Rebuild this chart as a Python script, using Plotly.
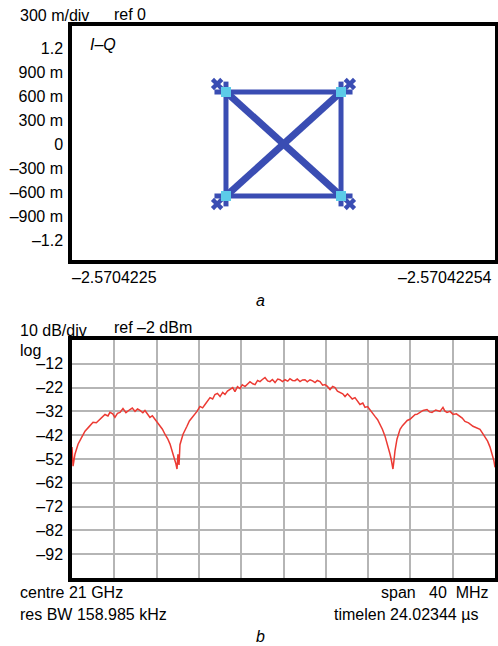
import plotly.graph_objects as go

# ---------------- data ----------------
# (a) I-Q constellation: symbol positions (normalised units)
sym_i = [-0.65, 0.65, 0.65, -0.65]
sym_q = [0.65, 0.65, -0.65, -0.65]
# transitions between symbols (index pairs): square edges + diagonals
edges = [(0, 1), (1, 2), (2, 3), (3, 0)]
diagonals = [(0, 2), (1, 3)]
edge_overshoot = 0.13
diag_overshoot = 0.05
corner_spread = 0.10

q_tickvals = [1.2, 0.9, 0.6, 0.3, 0, -0.3, -0.6, -0.9, -1.2]
q_ticktext = ["1.2", "900 m", "600 m", "300 m", "0", "\u2013300 m", "\u2013600 m", "\u2013900 m", "\u20131.2"]

# (b) spectrum: offset from centre (MHz) and level (dBm)
freq_mhz = [
    -20.0, -19.9, -19.72, -19.43, -19.1, -18.77, -18.4, -18.01, -17.7, -17.35,
    -17.1, -16.88, -16.6, -16.41, -16.15, -15.94, -15.7, -15.46, -15.18, -14.9,
    -14.52, -14.3, -14.04, -13.8, -13.57, -13.3, -13.10, -12.85, -12.63, -12.4,
    -12.15, -11.9, -11.68, -11.45, -11.21, -10.95, -10.73, -10.5, -10.26, -10.17,
    -10.07, -9.98, -9.88, -9.79, -9.50, -9.3, -9.13, -8.9, -8.65, -8.4,
    -8.18, -7.90, -7.65, -7.42, -7.2, -6.95, -6.7, -6.48, -6.25, -6.00,
    -5.75, -5.53, -5.3, -5.06, -4.8, -4.59, -4.35, -4.11, -3.9, -3.64,
    -3.4, -3.17, -2.9, -2.69, -2.45, -2.22, -2.0, -1.75, -1.5, -1.28,
    -1.05, -0.80, -0.55, -0.33, -0.1, 0.14, 0.4, 0.61, 0.85, 1.09,
    1.3, 1.56, 1.8, 2.03, 2.25, 2.51, 2.75, 2.98, 3.2, 3.45,
    3.7, 3.92, 4.15, 4.40, 4.65, 4.87, 5.1, 5.34, 5.6, 5.82,
    6.05, 6.29, 6.5, 6.76, 7.0, 7.23, 7.5, 7.71, 7.95, 8.18,
    8.4, 8.65, 8.9, 9.13, 9.35, 9.60, 9.75, 9.88, 10.07, 10.18,
    10.26, 10.35, 10.45, 10.54, 10.73, 10.88, 11.02, 11.25, 11.49, 11.7,
    11.96, 12.24, 12.45, 12.62, 12.91, 13.2, 13.57, 13.8, 14.04, 14.4,
    14.80, 15.08, 15.25, 15.46, 15.75, 16.03, 16.35, 16.69, 16.9, 17.16,
    17.5, 17.92, 18.25, 18.58, 18.8, 19.05, 19.3, 19.53, 19.75, 19.90,
    20.0,
]
level_dbm = [
    -47.0, -55.0, -50.0, -45.8, -43.0, -40.3, -38.5, -36.6, -36.8, -35.3,
    -34.2, -33.3, -33.9, -32.4, -33.0, -34.5, -32.8, -32.4, -30.8, -32.5,
    -31.2, -30.6, -32.0, -31.0, -31.6, -32.6, -31.6, -33.0, -34.5, -33.8,
    -35.3, -36.5, -38.25, -39.5, -41.6, -43.5, -45.75, -49.0, -52.8, -54.1,
    -56.2, -50.0, -54.5, -46.0, -41.6, -40.0, -38.25, -36.0, -34.5, -33.5,
    -32.0, -29.9, -30.5, -29.1, -27.8, -26.2, -26.8, -24.9, -24.4, -25.75,
    -24.0, -24.9, -23.5, -22.8, -22.0, -23.7, -21.6, -22.4, -20.8, -21.6,
    -20.3, -19.5, -20.4, -20.75, -19.0, -19.5, -18.6, -17.8, -19.2, -19.5,
    -18.6, -19.9, -18.4, -18.7, -19.5, -18.7, -19.3, -18.25, -19.0, -19.1,
    -18.4, -19.5, -18.8, -18.7, -19.6, -18.7, -19.2, -19.9, -19.0, -19.5,
    -21.0, -20.75, -21.5, -22.8, -21.5, -22.0, -23.5, -24.1, -24.6, -25.75,
    -24.6, -25.75, -26.8, -26.2, -27.6, -29.1, -28.5, -30.3, -30.0, -31.2,
    -32.5, -34.1, -35.5, -37.4, -39.5, -42.4, -44.5, -47.0, -49.9, -52.0,
    -54.1, -56.2, -52.5, -48.7, -43.7, -41.5, -39.5, -38.0, -36.6, -35.8,
    -35.3, -34.1, -33.3, -33.25, -32.4, -31.6, -31.2, -32.2, -32.4, -31.4,
    -32.0, -30.3, -31.8, -32.4, -32.0, -33.25, -33.0, -34.1, -34.8, -36.2,
    -36.8, -38.25, -38.8, -39.5, -41.0, -42.8, -44.5, -47.0, -50.0, -52.8,
    -55.5,
]
db_tickvals = [-12, -22, -32, -42, -52, -62, -72, -82, -92]
db_ticktext = ["\u201312", "\u201322", "\u201332", "\u201342", "\u201352",
               "\u201362", "\u201372", "\u201382", "\u201392"]

# ---------------- styling ----------------
FONT = "Liberation Sans, Arial, Helvetica, sans-serif"
FS = 16
BLUE = "#3a4db3"
CYAN = "#5ccbe8"
RED = "#ec3a33"
GRID = "#b5b5b5"

W, H = 498, 646
def px_x(p):
    return p / W
def px_y(p):
    return 1 - p / H


def seg(a, b, d):
    xa, ya = sym_i[a], sym_q[a]
    xb, yb = sym_i[b], sym_q[b]
    L = ((xb - xa) ** 2 + (yb - ya) ** 2) ** 0.5
    ux, uy = (xb - xa) / L, (yb - ya) / L
    return [xa - d * ux, xb + d * ux, None], [ya - d * uy, yb + d * uy, None]


ex, ey = [], []
for a, b in edges:
    sx, sy = seg(a, b, edge_overshoot)
    ex += sx
    ey += sy
dx, dy = [], []
for a, b in diagonals:
    sx, sy = seg(a, b, diag_overshoot)
    dx += sx
    dy += sy
# outward blobs at each corner (trajectory overshoot)
bx = [v + corner_spread * (1 if v > 0 else -1) for v in sym_i]
by = [v + corner_spread * (1 if v > 0 else -1) for v in sym_q]

fig = go.Figure()
fig.add_trace(go.Scatter(x=dx, y=dy, mode="lines", line=dict(color=BLUE, width=7),
                         xaxis="x", yaxis="y", hoverinfo="skip", showlegend=False))
fig.add_trace(go.Scatter(x=ex, y=ey, mode="lines", line=dict(color=BLUE, width=5),
                         xaxis="x", yaxis="y", hoverinfo="skip", showlegend=False))
fig.add_trace(go.Scatter(x=bx, y=by, mode="markers",
                         marker=dict(symbol="x", size=11, color=BLUE),
                         xaxis="x", yaxis="y", hoverinfo="skip", showlegend=False))
fig.add_trace(go.Scatter(x=sym_i, y=sym_q, mode="markers",
                         marker=dict(symbol="square", size=10, color=CYAN),
                         xaxis="x", yaxis="y", showlegend=False))

fig.add_trace(go.Scatter(x=freq_mhz, y=level_dbm, mode="lines",
                         line=dict(color=RED, width=1.5),
                         xaxis="x2", yaxis="y2", showlegend=False))

frame = dict(showline=True, mirror=True, linecolor="black", linewidth=3.5,
             zeroline=False)

fig.update_layout(
    width=W, height=H,
    margin=dict(l=0, r=0, t=0, b=0),
    paper_bgcolor="white", plot_bgcolor="white",
    font=dict(family=FONT, size=FS, color="black"),
    xaxis=dict(domain=[px_x(72), px_x(495)], range=[-2.39, 2.39],
               showgrid=False, showticklabels=False, ticks="", **frame),
    yaxis=dict(domain=[px_y(260), px_y(26)], range=[-1.45, 1.475],
               showgrid=False, tickvals=q_tickvals, ticktext=q_ticktext,
               ticks="outside", ticklen=2, tickcolor="rgba(0,0,0,0)",
               tickfont=dict(size=FS), **frame),
    xaxis2=dict(domain=[px_x(72), px_x(495)], range=[-20, 20], anchor="y2",
                showgrid=True, gridcolor=GRID, gridwidth=2, dtick=4, tick0=-20,
                showticklabels=False, ticks="", **frame),
    yaxis2=dict(domain=[px_y(578), px_y(340)], range=[-102, -2], anchor="x2",
                showgrid=True, gridcolor=GRID, gridwidth=2,
                tickvals=db_tickvals, ticktext=db_ticktext,
                ticks="outside", ticklen=2, tickcolor="rgba(0,0,0,0)",
                tickfont=dict(size=FS), **frame),
)


def txt(text, x, y, xanchor="left", italic=False):
    t = f"<i>{text}</i>" if italic else text
    fig.add_annotation(text=t, x=px_x(x), y=px_y(y), xref="paper", yref="paper",
                       xanchor=xanchor, yanchor="middle", showarrow=False,
                       font=dict(family=FONT, size=FS, color="black"))

NB = "\u00a0"
txt("300 m/div", 18, 15)
txt("ref 0", 112, 14)
txt("I\u2013Q", 88, 44, italic=True)
txt("\u20132.5704225", 70, 277)
txt("\u20132.57042254", 494, 277, xanchor="right")
txt("a", 254, 300, italic=True)

txt("10 dB/div", 18, 330)
txt("ref \u20132 dBm", 112, 327)
txt("log", 18, 351)
txt("centre 21 GHz", 18, 592)
txt("res BW 158.985 kHz", 18, 614)
txt(f"span{NB}{NB}{NB}40{NB}{NB}MHz", 491, 592, xanchor="right")
txt("timelen 24.02344 \u00b5s", 480, 614, xanchor="right")
txt("b", 254, 636, italic=True)

fig.write_html(
    "out.html",
    config={"displayModeBar": False},
    post_script="document.body.style.margin='0';document.body.style.overflow='hidden';",
)
